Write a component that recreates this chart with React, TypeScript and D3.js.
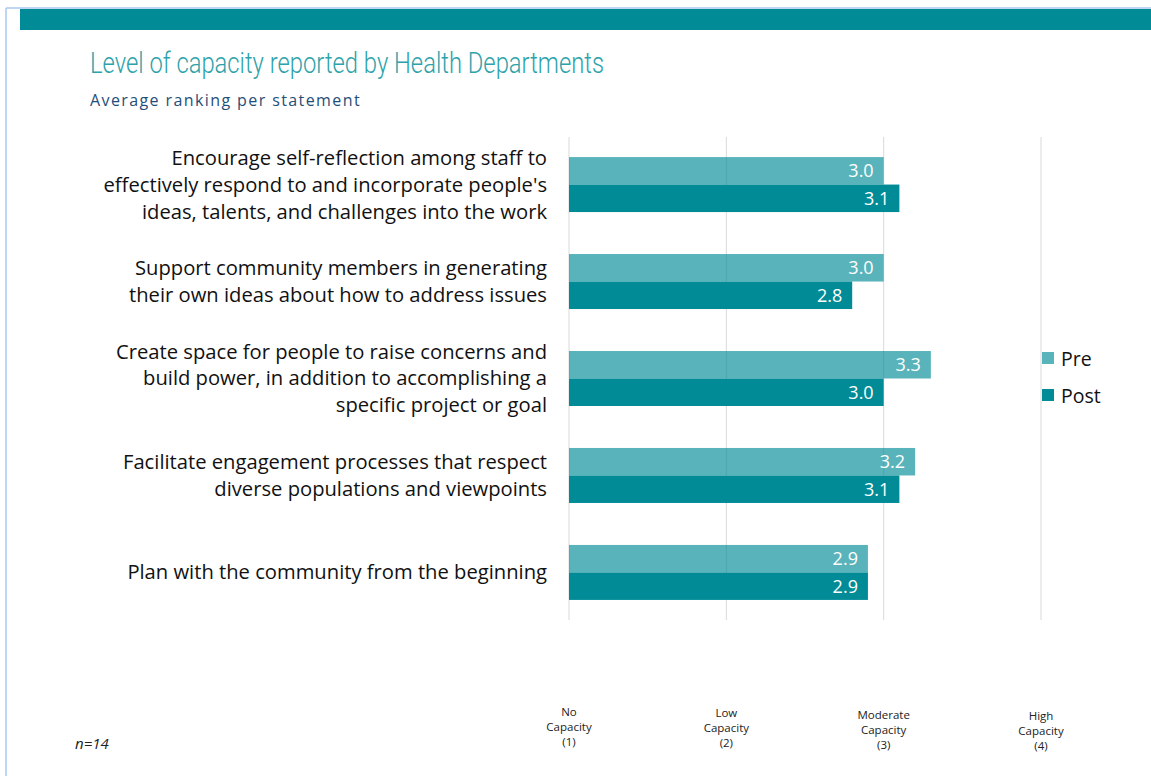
import React from "react";
import * as d3 from "d3";

const statements: string[][] = [
  ["Encourage self-reflection among staff to", "effectively respond to and incorporate people's", "ideas, talents, and challenges into the work"],
  ["Support community members in generating", "their own ideas about how to address issues"],
  ["Create space for people to raise concerns and", "build power, in addition to accomplishing a", "specific project or goal"],
  ["Facilitate engagement processes that respect", "diverse populations and viewpoints"],
  ["Plan with the community from the beginning"],
];
const preValues = [3.0, 3.0, 3.3, 3.2, 2.9];
const postValues = [3.1, 2.8, 3.0, 3.1, 2.9];
const seriesNames = ["Pre", "Post"];
const tickValues = [1, 2, 3, 4];
const tickLabels: string[][] = [
  ["No", "Capacity", "(1)"],
  ["Low", "Capacity", "(2)"],
  ["Moderate", "Capacity", "(3)"],
  ["High", "Capacity", "(4)"],
];

const W = 1151;
const H = 776;
const TEAL = "#008b96";
const FONT = "'Open Sans', 'Noto Sans', sans-serif";

export default function App() {
  const x = d3.scaleLinear().domain([1, 4]).range([569, 1041]);
  const y = d3
    .scaleBand<number>()
    .domain(d3.range(statements.length))
    .range([137, 620])
    .paddingInner(0.433)
    .paddingOuter(0.207);
  const sub = d3.scaleBand<string>().domain(seriesNames).range([0, y.bandwidth()]);
  const seriesValues = [preValues, postValues];
  const seriesOpacity = [0.65, 1];

  return (
    <svg
      width={W}
      height={H}
      style={{ position: "absolute", left: 0, top: 0, background: "#fff" }}
      fontFamily={FONT}
    >
      {/* frame and banner */}
      <line x1={6} y1={8} x2={W} y2={8} stroke="#a9c8ec" strokeWidth={1.5} />
      <line x1={6} y1={8} x2={6} y2={H} stroke="#a9c8ec" strokeWidth={1.5} />
      <rect x={20} y={9} width={W - 20} height={21} fill={TEAL} />

      <text
        x={90}
        y={73}
        fontSize={30}
        fontWeight={300}
        fill="#2ea2aa"
        textLength={514}
        lengthAdjust="spacingAndGlyphs"
        fontFamily="Roboto, sans-serif"
      >
        Level of capacity reported by Health Departments
      </text>
      <text x={90} y={106} fontSize={16} fill="#1f4e79" letterSpacing={1.4}>
        Average ranking per statement
      </text>

      {/* gridlines */}
      {tickValues.map((t) => (
        <line key={t} x1={x(t)} x2={x(t)} y1={137} y2={620} stroke="#d9d9d9" strokeWidth={1} />
      ))}

      {/* bars */}
      {statements.map((lines, i) => (
        <g key={i} transform={`translate(0,${y(i)})`}>
          {seriesNames.map((s, k) => {
            const v = seriesValues[k][i];
            const by = sub(s)!;
            return (
              <g key={s}>
                <rect
                  x={x(1)}
                  y={by}
                  width={x(v) - x(1)}
                  height={sub.bandwidth()}
                  fill={TEAL}
                  fillOpacity={seriesOpacity[k]}
                />
                <text
                  x={x(v) - 10}
                  y={by + sub.bandwidth() / 2 + 6.5}
                  textAnchor="end"
                  fontSize={18}
                  fill="#fff"
                >
                  {v.toFixed(1)}
                </text>
              </g>
            );
          })}
          {lines.map((ln, j) => (
            <text
              key={j}
              x={547}
              y={y.bandwidth() / 2 + (j - (lines.length - 1) / 2) * 27 + 7}
              textAnchor="end"
              fontSize={20.2}
              fill="#111"
            >
              {ln}
            </text>
          ))}
        </g>
      ))}

      {/* legend */}
      {seriesNames.map((s, k) => (
        <g key={s} transform={`translate(1042,${352 + k * 37})`}>
          <rect width={12} height={12} fill={TEAL} fillOpacity={seriesOpacity[k]} />
          <text x={19} y={13.5} fontSize={19.5} fill="#111">
            {s}
          </text>
        </g>
      ))}

      {/* category axis labels */}
      {tickValues.map((t, i) =>
        tickLabels[i].map((ln, j) => (
          <text
            key={`${t}-${j}`}
            x={x(t)}
            y={716 + i * 1.3 + j * 15}
            textAnchor="middle"
            fontSize={11.5}
            fill="#222"
          >
            {ln}
          </text>
        ))
      )}

      <text x={75} y={749} fontSize={15} fontStyle="italic" fill="#222">
        n=14
      </text>
    </svg>
  );
}
